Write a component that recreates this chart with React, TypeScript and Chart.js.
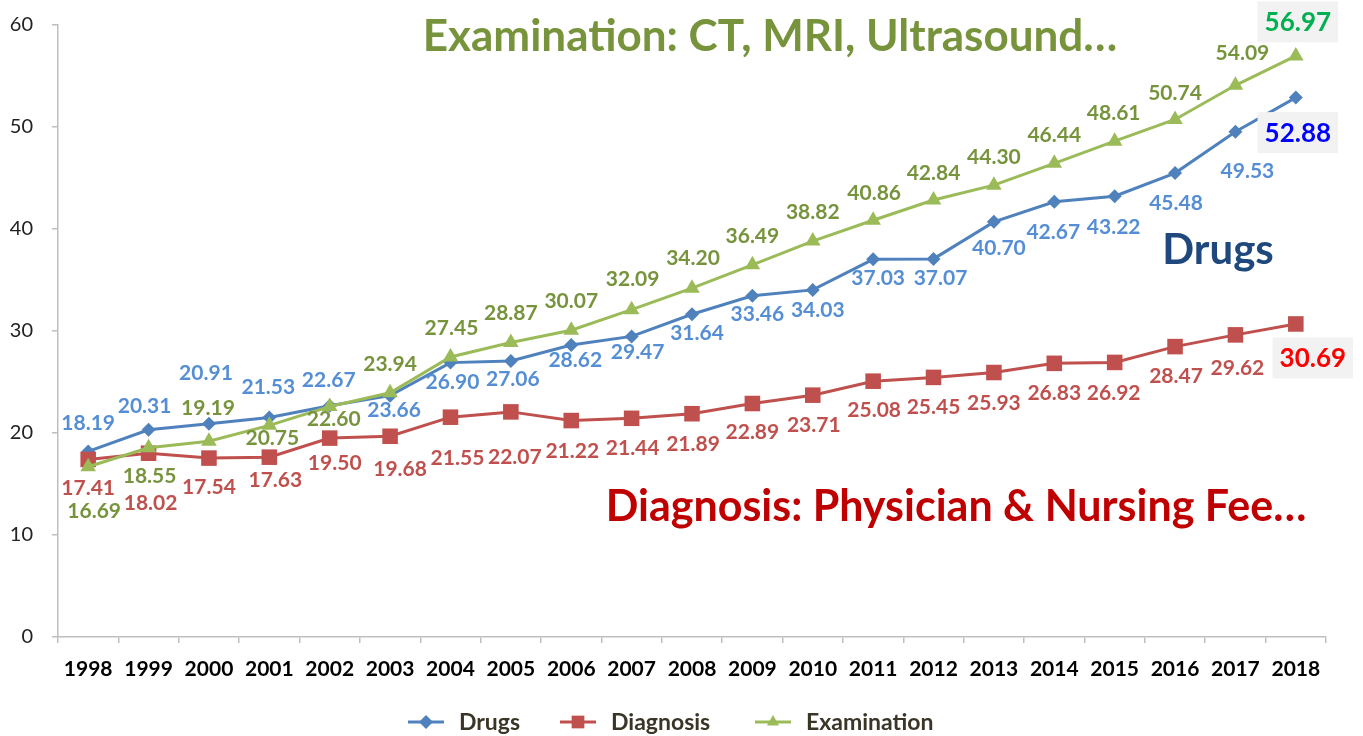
import React, { useEffect, useRef } from "react";
import { Chart, registerables } from "chart.js";

Chart.register(...registerables);

// ---- data ----
const years = ["1998","1999","2000","2001","2002","2003","2004","2005","2006","2007","2008","2009","2010","2011","2012","2013","2014","2015","2016","2017","2018"];
const drugs = [18.19,20.31,20.91,21.53,22.67,23.66,26.90,27.06,28.62,29.47,31.64,33.46,34.03,37.03,37.07,40.70,42.67,43.22,45.48,49.53,52.88];
const diagnosis = [17.41,18.02,17.54,17.63,19.50,19.68,21.55,22.07,21.22,21.44,21.89,22.89,23.71,25.08,25.45,25.93,26.83,26.92,28.47,29.62,30.69];
const examination = [16.69,18.55,19.19,20.75,22.60,23.94,27.45,28.87,30.07,32.09,34.20,36.49,38.82,40.86,42.84,44.30,46.44,48.61,50.74,54.09,56.97];
const seriesNames = ["Drugs", "Diagnosis", "Examination"];
const yMin = 0;
const yMax = 60;
const yStep = 10;

// ---- label placement (offsets from each point, px) ----
const drugsLabelDx = [0,-4,-3,-1,-1,4,2,2,4,6,5,5,5,5,7,5,-1,-1,1,12,2];
const drugsLabelDy = [-28,-24,-50,-30,-26,15,20,18,15,16,19,19,20,19,19,26,30,31,30,39,35];
const diagLabelDx = [0,2,0,6,5,10,7,4,1,1,1,0,1,1,0,0,0,-1,1,2,17];
const diagLabelDy = [29,50,29,23,25,33,41,45,31,30,31,29,30,29,30,31,30,31,30,33,34];
const examLabelDx = [6,1,-1,3,4,0,1,0,0,1,1,0,0,1,0,0,0,-1,0,7,2];
const examLabelDy = [44,28,-33,13,13,-29,-29,-29,-29,-30,-30,-29,-29,-27,-27,-28,-28,-28,-26,-32,-34];

const FONT = "Lato, 'Noto Sans', sans-serif";

const lineColors = ["#4F81BD", "#C0504D", "#9BBB59"];
const labelColors = ["#558ED5", "#C0504D", "#77933C"];
const endLabelColors = ["#0000FF", "#FF0000", "#00B050"];
const labelDx = [drugsLabelDx, diagLabelDx, examLabelDx];
const labelDy = [drugsLabelDy, diagLabelDy, examLabelDy];
const markerStyles = ["rectRot", "rect", "triangle"];

const pointLabelPlugin = {
  id: "pointLabels",
  afterDatasetsDraw(chart: any) {
    const ctx = chart.ctx;
    ctx.save();
    chart.data.datasets.forEach((ds: any, di: number) => {
      const meta = chart.getDatasetMeta(di);
      meta.data.forEach((pt: any, i: number) => {
        const v = ds.data[i] as number;
        const text = v.toFixed(2);
        const x = pt.x + labelDx[di][i];
        const y = pt.y + labelDy[di][i];
        const last = i === ds.data.length - 1;
        ctx.textAlign = "center";
        ctx.textBaseline = "middle";
        if (last) {
          ctx.font = `bold 26px ${FONT}`;
          const w = ctx.measureText(text).width + 14;
          const h = 41;
          ctx.fillStyle = "#F2F2F2";
          ctx.fillRect(x - w / 2, y - h / 2, w, h);
          ctx.fillStyle = endLabelColors[di];
          ctx.fillText(text, x, y + 1);
        } else {
          ctx.font = `bold 21px ${FONT}`;
          ctx.fillStyle = labelColors[di];
          ctx.fillText(text, x, y);
        }
      });
    });
    ctx.restore();
  },
};

function drawMarker(ctx: CanvasRenderingContext2D, style: string, x: number, y: number, r: number) {
  ctx.beginPath();
  if (style === "rectRot") {
    ctx.moveTo(x - r, y);
    ctx.lineTo(x, y - r);
    ctx.lineTo(x + r, y);
    ctx.lineTo(x, y + r);
  } else if (style === "rect") {
    const s = r * Math.SQRT1_2;
    ctx.rect(x - s, y - s, 2 * s, 2 * s);
  } else {
    ctx.moveTo(x, y - r);
    ctx.lineTo(x + r * 0.866, y + r / 2);
    ctx.lineTo(x - r * 0.866, y + r / 2);
  }
  ctx.closePath();
  ctx.fill();
}

const annotationPlugin = {
  id: "annotations",
  afterDraw(chart: any) {
    const ctx = chart.ctx as CanvasRenderingContext2D;
    ctx.save();
    ctx.textAlign = "center";
    ctx.textBaseline = "middle";
    ctx.font = `bold 44px ${FONT}`;
    ctx.fillStyle = "#77933C";
    ctx.fillText("Examination: CT, MRI, Ultrasound…", 770, 37);
    ctx.font = `bold 42px ${FONT}`;
    ctx.fillStyle = "#1F497D";
    ctx.fillText("Drugs", 1218, 250);
    ctx.font = `bold 43px ${FONT}`;
    ctx.fillStyle = "#C00000";
    ctx.fillText("Diagnosis: Physician & Nursing Fee…", 956, 507);

    // legend
    const markerX = [426, 578, 773];
    const ly = 722;
    ctx.font = `bold 23px ${FONT}`;
    ctx.textAlign = "left";
    chart.data.datasets.forEach((ds: any, di: number) => {
      const mx = markerX[di];
      ctx.strokeStyle = lineColors[di];
      ctx.lineWidth = 3;
      ctx.beginPath();
      ctx.moveTo(mx - 18, ly);
      ctx.lineTo(mx + 18, ly);
      ctx.stroke();
      ctx.fillStyle = lineColors[di];
      drawMarker(ctx, markerStyles[di], mx, ly, di === 1 ? 9 : 7);
      ctx.fillStyle = "#3A3527";
      ctx.fillText(ds.label, mx + 33, ly + 1);
    });
    ctx.restore();
  },
};

export default function App() {
  const canvasRef = useRef<HTMLCanvasElement | null>(null);

  useEffect(() => {
    if (!canvasRef.current) return;
    const seriesData = [drugs, diagnosis, examination];
    const radii = [7, 11, 9];
    const orders = [2, 1, 0];
    const chart = new Chart(canvasRef.current, {
      type: "line",
      data: {
        labels: years,
        datasets: seriesData.map((d, i) => ({
          label: seriesNames[i],
          data: d,
          borderColor: lineColors[i],
          backgroundColor: lineColors[i],
          pointBackgroundColor: lineColors[i],
          pointBorderColor: lineColors[i],
          borderWidth: 3,
          pointStyle: markerStyles[i] as any,
          pointRadius: radii[i],
          pointBorderWidth: 0,
          tension: 0,
          order: orders[i],
        })),
      },
      options: {
        animation: false,
        responsive: true,
        maintainAspectRatio: false,
        layout: { padding: { top: 25, right: 37, bottom: 49, left: 0 } },
        plugins: {
          legend: { display: false },
          tooltip: { enabled: false },
        },
        scales: {
          x: {
            offset: true,
            grid: {
              drawOnChartArea: false,
              drawTicks: true,
              tickLength: 6,
              color: "#BFBFBF",
              lineWidth: 1.5,
              offset: true,
            },
            border: { color: "#BFBFBF", width: 1.5 },
            ticks: {
              color: "#000000",
              font: { family: FONT, size: 21, weight: "bold" },
              padding: 14,
              maxRotation: 0,
              autoSkip: false,
            },
            afterFit(scale: any) {
              scale.height = 50;
              scale.paddingLeft = 0;
              scale.paddingRight = 0;
            },
          },
          y: {
            min: yMin,
            max: yMax,
            grid: {
              drawOnChartArea: false,
              drawTicks: true,
              tickLength: 6,
              color: "#BFBFBF",
              lineWidth: 1.5,
            },
            border: { color: "#BFBFBF", width: 1.5 },
            ticks: {
              stepSize: yStep,
              color: "#222222",
              font: { family: FONT, size: 20 },
              padding: 19,
            },
            afterFit(scale: any) {
              scale.width = 58;
              scale.paddingTop = 0;
              scale.paddingBottom = 0;
            },
          },
        },
      },
      plugins: [pointLabelPlugin, annotationPlugin],
    });
    return () => chart.destroy();
  }, []);

  return (
    <div style={{ position: "fixed", left: 0, top: 0, width: 1363, height: 736, background: "#fff" }}>
      <canvas ref={canvasRef} />
    </div>
  );
}
